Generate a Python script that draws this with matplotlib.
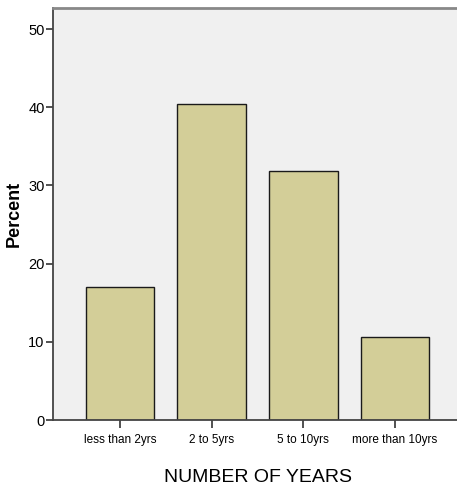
import matplotlib.pyplot as plt

categories = ["less than 2yrs", "2 to 5yrs", "5 to 10yrs", "more than 10yrs"]
percent = [17.0, 40.4, 31.9, 10.6]
y_ticks = [0, 10, 20, 30, 40, 50]

font = "Liberation Sans"

fig = plt.figure(figsize=(4.57, 4.88), dpi=100)
ax = fig.add_axes([53 / 457, 68 / 488, 409 / 457, 412 / 488])
ax.set_facecolor("#f0f0f0")

x = range(len(categories))
ax.bar(x, percent, width=0.75, color="#d3ce98", edgecolor="#1a1a1a", linewidth=1.0)

ax.set_xlim(-0.73, 3.73)
ax.set_ylim(0, 52.7)
ax.set_yticks(y_ticks)
ax.set_yticklabels([str(t) for t in y_ticks], family=font, fontsize=10.5)
ax.set_xticks(list(x))
ax.set_xticklabels(categories, family=font, fontsize=8.5)
ax.tick_params(axis="y", length=5, width=1.2, color="#333333", pad=1)
ax.tick_params(axis="x", length=6, width=1.2, color="#333333", pad=4)

for side in ["left", "bottom"]:
    ax.spines[side].set_color("#444444")
    ax.spines[side].set_linewidth(1.3)
ax.spines["top"].set_color("#888888")
ax.spines["top"].set_linewidth(2)
ax.spines["right"].set_visible(False)

ax.set_xlabel("NUMBER OF YEARS", family=font, fontsize=14, labelpad=17)
ax.set_ylabel("Percent", family=font, fontweight="bold", fontsize=13)
ax.yaxis.set_label_coords(-0.073, 0.5)

fig.savefig("out.png", dpi=100)
